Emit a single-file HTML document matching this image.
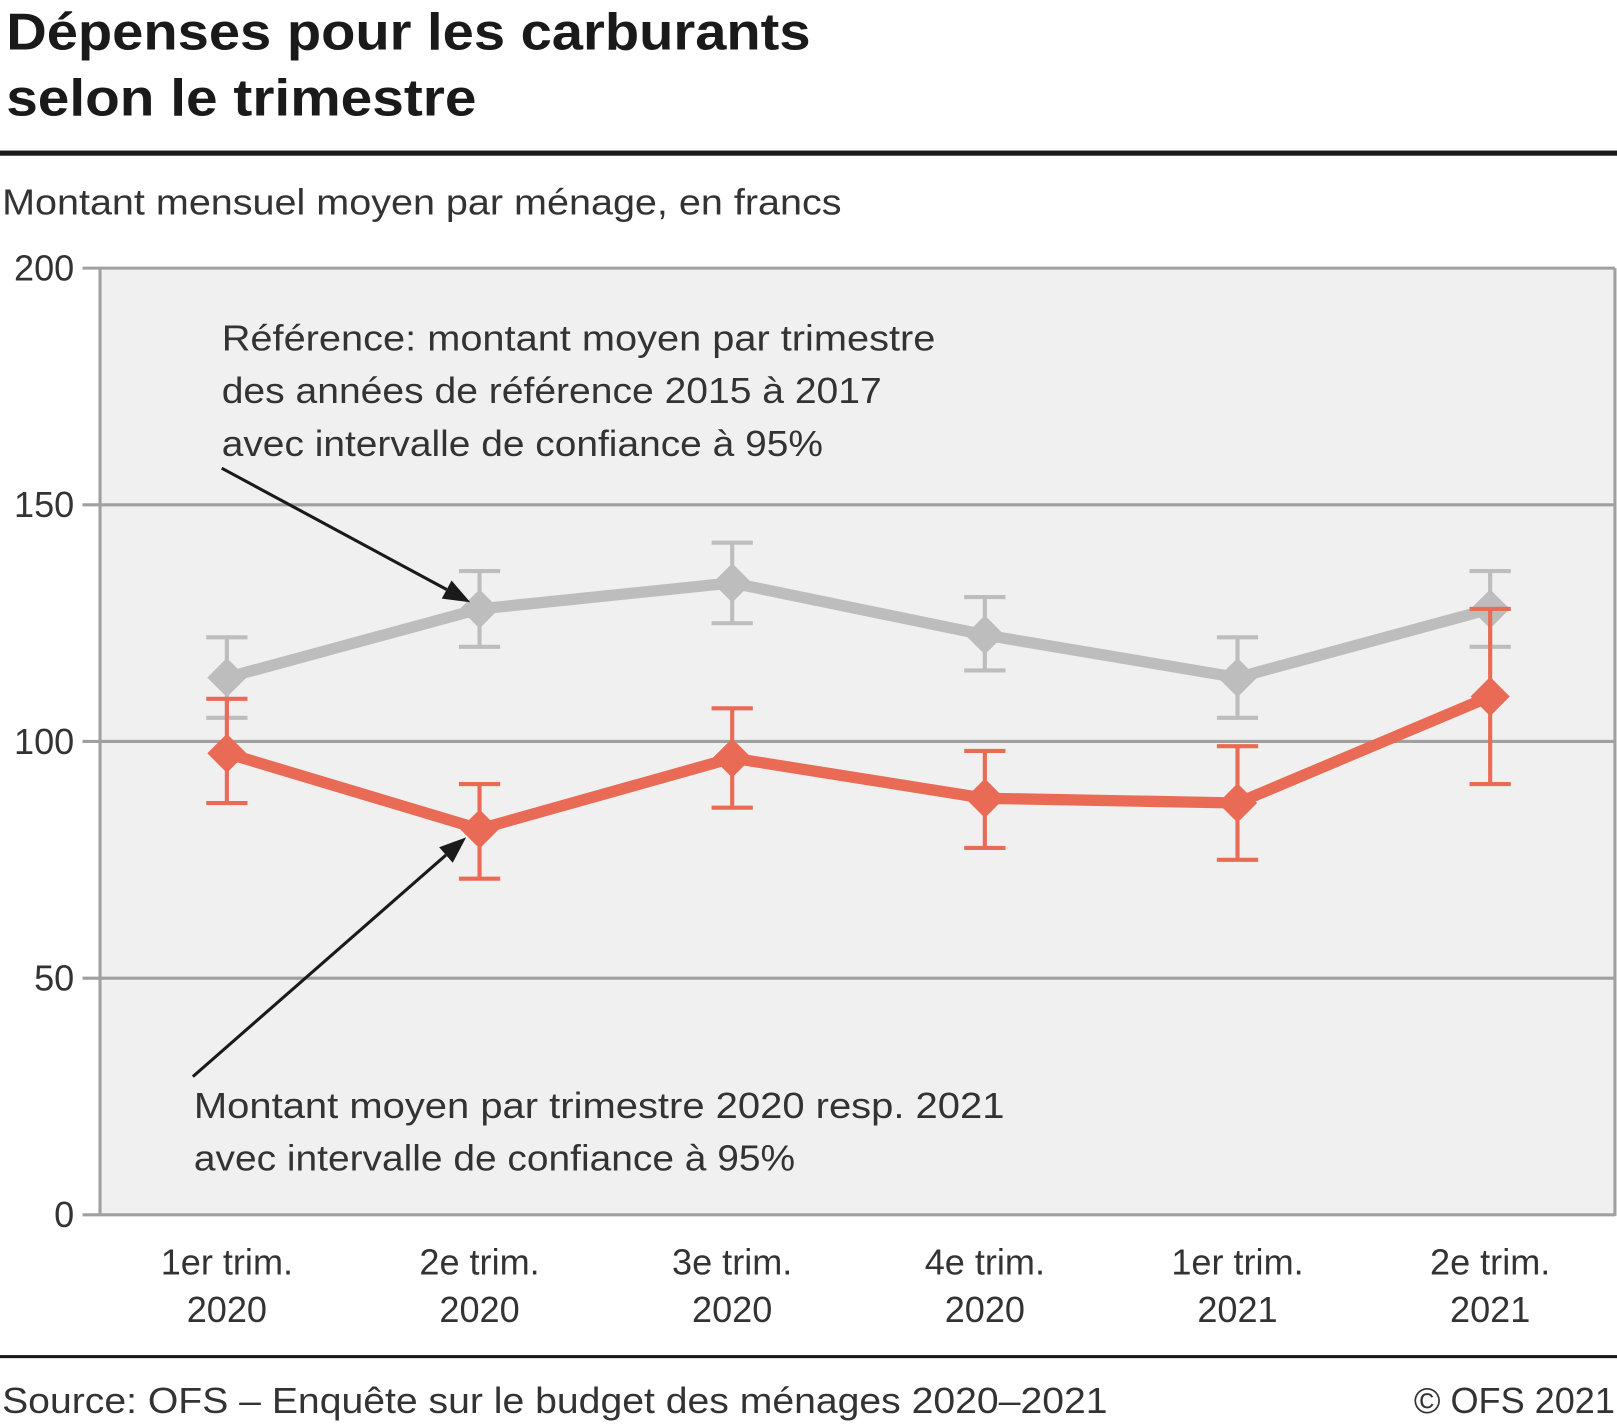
<!DOCTYPE html>
<html><head><meta charset="utf-8"><style>
html,body{margin:0;padding:0;background:#fff;overflow:hidden}
#wrap{width:1568px;height:1381px;transform:scale(1.03125);transform-origin:0 0;position:relative;font-family:"Liberation Sans",sans-serif;color:#1a1a1a}
</style></head><body>
<div id="wrap">
<svg id="svg" width="1568" height="1381" xmlns="http://www.w3.org/2000/svg" font-family="Liberation Sans, sans-serif">
<text x="6" y="48" font-size="50" font-weight="bold" fill="#1a1a1a" textLength="780" lengthAdjust="spacingAndGlyphs">Dépenses pour les carburants</text>
<text x="6" y="112" font-size="50" font-weight="bold" fill="#1a1a1a" textLength="456" lengthAdjust="spacingAndGlyphs">selon le trimestre</text>
<rect x="0" y="146" width="1568" height="5" fill="#1a1a1a"/>
<text x="2" y="208" font-size="35" fill="#333" textLength="814" lengthAdjust="spacingAndGlyphs">Montant mensuel moyen par ménage, en francs</text>
<rect x="97" y="260" width="1469" height="918" fill="#f0f0f0"/>
<g id="grid"></g>
<g id="series"></g>
<g id="annot"></g>
<rect x="0" y="1314" width="1568" height="3" fill="#1a1a1a"/>
<text x="2" y="1370" font-size="35" fill="#333" textLength="1072" lengthAdjust="spacingAndGlyphs">Source: OFS – Enquête sur le budget des ménages 2020–2021</text>
<text x="1566" y="1370" font-size="35" fill="#333" text-anchor="end">© OFS 2021</text>
</svg>
</div>
<script>
const categories=[["1er trim.","2020"],["2e trim.","2020"],["3e trim.","2020"],["4e trim.","2020"],["1er trim.","2021"],["2e trim.","2021"]];
const refValues=[113.5,128,133.5,122.5,113.5,128];
const refLow=[105,120,125,115,105,120];
const refHigh=[122,136,142,130.5,122,136];
const actValues=[97.5,81.5,96.5,88,87,109.5];
const actLow=[87,71,86,77.5,75,91];
const actHigh=[109,91,107,98,99,128];
const yTicks=[0,50,100,150,200];
const NS="http://www.w3.org/2000/svg";
const L=97,R=1566,T=260,B=1178;
function y(v){return B-(v/200)*(B-T);}
function x(i){return 220+i*245;}
function mk(tag,attrs,parent){const e=document.createElementNS(NS,tag);for(const k in attrs)e.setAttribute(k,attrs[k]);parent.appendChild(e);return e;}
const grid=document.getElementById('grid'),ser=document.getElementById('series'),an=document.getElementById('annot');
yTicks.forEach(t=>{
 const g=mk('line',{x1:80,x2:R,y1:y(t),y2:y(t),stroke:'#a0a0a0','stroke-width':3},grid);
 
 
 const tx=mk('text',{x:72,y:y(t)+12,'font-size':35,fill:'#333','text-anchor':'end'},grid);tx.textContent=t;
 
 
});
const ax=mk('line',{x1:L,x2:L,y1:T,y2:B+1,stroke:'#a0a0a0','stroke-width':3},grid);


const rb=mk('line',{x1:R,x2:R,y1:T,y2:B+1,stroke:'#a0a0a0','stroke-width':3},grid);


categories.forEach((c,i)=>{
 const t=mk('text',{x:x(i),y:1236,'font-size':35,fill:'#333','text-anchor':'middle'},grid);
 mk('tspan',{x:x(i),dy:0},t).textContent=c[0];
 mk('tspan',{x:x(i),dy:46},t).textContent=c[1];
 
 
});
function series(vals,lo,hi,col,name,lw){
 const g=mk('g',{},ser);
 
 
 vals.forEach((v,i)=>{
  const eb=mk('path',{d:`M${x(i)-20},${y(hi[i])}H${x(i)+20}M${x(i)},${y(hi[i])}V${y(lo[i])}M${x(i)-20},${y(lo[i])}H${x(i)+20}`,stroke:col,'stroke-width':4,fill:'none'},g);
  
  
 });
 const pl=mk('polyline',{points:vals.map((v,i)=>x(i)+','+y(v)).join(' '),stroke:col,'stroke-width':lw,fill:'none','stroke-linejoin':'round'},g);
 
 
 vals.forEach((v,i)=>{
  const d=mk('path',{d:`M${x(i)},${y(v)-19}L${x(i)+19},${y(v)}L${x(i)},${y(v)+19}L${x(i)-19},${y(v)}Z`,fill:col},g);
  
  
 });
}
series(refValues,refLow,refHigh,'#bdbdbd','reference',11);
series(actValues,actLow,actHigh,'#e96b55','actual',11);
function txt(lines,widths,x0,y0,name){
 const t=mk('text',{x:x0,y:y0,'font-size':35,fill:'#333'},an);
 lines.forEach((l,k)=>{mk('tspan',{x:x0,dy:k?51:0,textLength:widths[k],lengthAdjust:'spacingAndGlyphs'},t).textContent=l;});
 
 
}
txt(["Référence: montant moyen par trimestre","des années de référence 2015 à 2017","avec intervalle de confiance à 95%"],[692,640,583],215,340,'reference-annotation');
txt(["Montant moyen par trimestre 2020 resp. 2021","avec intervalle de confiance à 95%"],[786,583],188,1084,'actual-annotation');
function arrow(x1,y1,x2,y2,name){
 const g=mk('g',{},an);
 
 
 const a=Math.atan2(y2-y1,x2-x1),hl=26,hw=10;
 const bx=x2-hl*Math.cos(a),by=y2-hl*Math.sin(a);
 mk('line',{x1:x1,y1:y1,x2:bx,y2:by,stroke:'#1a1a1a','stroke-width':3},g);
 mk('path',{d:`M${x2},${y2}L${bx-hw*Math.sin(a)},${by+hw*Math.cos(a)}L${bx+hw*Math.sin(a)},${by-hw*Math.cos(a)}Z`,fill:'#1a1a1a'},g);
}
arrow(215,454,456,584,'reference-arrow');
arrow(187,1044,452,812,'actual-arrow');
</script>
</body></html>
